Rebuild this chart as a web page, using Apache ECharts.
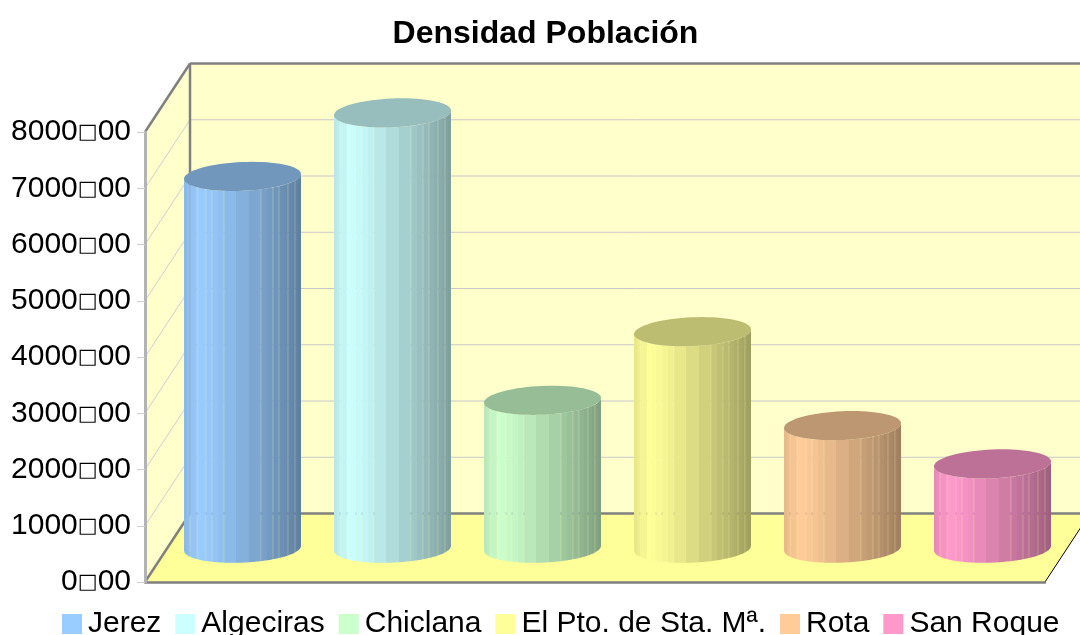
<!DOCTYPE html>
<html><head><meta charset="utf-8">
<style>html,body{margin:0;padding:0;background:#fff}#c{width:1080px;height:635px}</style>
<script src="https://cdn.jsdelivr.net/npm/echarts@6/dist/echarts.min.js"></script>
</head><body><div id="c"></div>
<script>
const titleText = 'Densidad Población';
const categories = ['Jerez','Algeciras','Chiclana','El Pto. de Sta. Mª.','Rota','San Roque'];
const values = [6610,7740,2630,3850,2180,1500];
const colors = ['#99ccff','#ccffff','#ccffcc','#ffff99','#ffcc99','#ff99cc'];
const yTicks = [0,1000,2000,3000,4000,5000,6000,7000,8000];
const depth = {dx:45, dy:-68.5};
const stripEdges = [0,3,6,13,17,22,28,34,40,52,65,77,83,89,95,100,104,108,111,114,117];
const seamEdges = [6,13,22,28,40,77,89,95,104,111];
const FONT = '"Liberation Sans", Arial, sans-serif';

function shade(hex, f){
  const n = parseInt(hex.slice(1),16);
  const c = [n>>16&255, n>>8&255, n&255].map(v=>Math.round(v*f));
  return 'rgb('+c.join(',')+')';
}
function light(u){
  if(u<0.13) return 0.90+0.10*u/0.13;
  return 1-0.38*Math.pow((u-0.13)/0.87,1.2);
}

const chart = echarts.init(document.getElementById('c'),null,{renderer:'canvas'});

function renderFrame(params, api){
  const cs = params.coordSys;
  const L=cs.x,R=cs.x+cs.width,T=cs.y,B=cs.y+cs.height,dx=depth.dx,dy=depth.dy;
  const grey='#808080';
  if(params.dataIndex===0){
    return {type:'group',silent:true,children:[
      {type:'polygon',shape:{points:[[L,T],[L+dx,T+dy],[L+dx,B+dy],[L,B]]},style:{fill:'#ffffcc'}},
      {type:'rect',shape:{x:L+dx,y:T+dy,width:cs.width,height:cs.height},style:{fill:'#ffffcc'}},
      {type:'polygon',shape:{points:[[L,B],[L+dx,B+dy],[R+dx,B+dy],[R,B]]},style:{fill:'#ffff99'}}
    ]};
  }
  if(params.dataIndex===yTicks.length-1){
    return {type:'group',silent:true,children:[
      {type:'line',shape:{x1:L,y1:T,x2:L+dx,y2:T+dy},style:{stroke:grey,lineWidth:2.5}},
      {type:'line',shape:{x1:L+dx,y1:T+dy,x2:R+dx,y2:T+dy},style:{stroke:grey,lineWidth:2.5}},
      {type:'line',shape:{x1:L+dx,y1:T+dy,x2:L+dx,y2:B+dy},style:{stroke:grey,lineWidth:2.5}},
      {type:'line',shape:{x1:L,y1:B,x2:L+dx,y2:B+dy},style:{stroke:grey,lineWidth:2.5}},
      {type:'line',shape:{x1:L+dx,y1:B+dy,x2:R+dx,y2:B+dy},style:{stroke:grey,lineWidth:2.5}},
      {type:'line',shape:{x1:R,y1:B,x2:R+dx,y2:B+dy},style:{stroke:'#000',lineWidth:1}}
    ]};
  }
  const y = api.coord([0,api.value(1)])[1];
  return {type:'group',silent:true,children:[
    {type:'line',shape:{x1:L,y1:y,x2:L+dx,y2:y+dy},style:{stroke:'#cfcfcf',lineWidth:1}},
    {type:'line',shape:{x1:L+dx,y1:y+dy,x2:R+dx,y2:y+dy},style:{stroke:'#c8c8c8',lineWidth:1}}
  ]};
}

function renderCylinder(color){
  return function(params, api){
    const i = api.value(0), v = api.value(1);
    const base = api.coord([i,0]), top = api.coord([i,v]);
    const band = api.size([1,0])[0];
    const cx = base[0]+depth.dx/2, by = base[1]+depth.dy/2+0.5, ty = top[1]+depth.dy/2+0.5;
    const ratio = 0.426;
    const ky = ratio*depth.dy/2, kx = ratio*depth.dx/2;
    const half = band*0.39;
    const a = Math.sqrt(half*half-kx*kx);
    const pt = (t,y)=>[cx+a*Math.cos(t)+kx*Math.sin(t), y+ky*Math.sin(t)];
    const t0 = Math.atan2(kx,a);
    const toT = w=>t0-Math.acos(Math.max(-1,Math.min(1,2*w/117-1)));
    const kids=[];
    const el=(y)=>{const p=[];for(let k=0;k<72;k++)p.push(pt(k/72*Math.PI*2,y));return p;};
    const gap=0.14;
    for(let k=0;k<stripEdges.length-1;k++){
      const e0=stripEdges[k], e1=stripEdges[k+1];
      const s0=toT(seamEdges.includes(e0)?e0+gap:e0);
      const s1=toT(seamEdges.includes(e1)?e1-gap:(k<stripEdges.length-2?e1+0.6:e1));
      const steps=3, top1=[], bot1=[];
      for(let j=0;j<=steps;j++){
        const s=s0+(s1-s0)*j/steps;
        top1.push(pt(s,ty)); bot1.unshift(pt(s,by));
      }
      const um=(e0+e1)/2/117;
      kids.push({type:'polygon',shape:{points:top1.concat(bot1)},style:{fill:shade(color,light(um))}});
    }
    kids.push({type:'polygon',shape:{points:el(ty)},style:{fill:shade(color,0.74)}});
    return {type:'group',children:kids};
  };
}

const series = [{
  type:'custom',name:'frame',silent:true,z:1,
  data:yTicks.map(v=>[0,v]),encode:{x:0,y:1},clip:false,
  renderItem:renderFrame
}];
categories.forEach((c,i)=>{
  series.push({type:'custom',name:c,z:3,clip:false,
    itemStyle:{color:colors[i]},
    data:[[i,values[i]]],encode:{x:0,y:1},
    renderItem:renderCylinder(colors[i])});
});

chart.setOption({
  animation:false,
  backgroundColor:'#fff',
  title:{text:titleText,left:540.5,top:13,textAlign:'center',
    textStyle:{fontFamily:FONT,fontSize:32,fontWeight:'bold',color:'#000'}},
  legend:{data:categories,left:62,top:609,itemWidth:20,itemHeight:20,itemGap:14,padding:0,
    icon:'rect',selectedMode:false,
    textStyle:{fontFamily:FONT,fontSize:30,color:'#000',padding:[0,0,0,1]}},
  grid:{left:145,right:35,top:132,bottom:53,containLabel:false},
  xAxis:{type:'category',data:categories,axisLabel:{show:false},axisTick:{show:false},
    axisLine:{lineStyle:{color:'#808080',width:2.5}},z:5},
  yAxis:{type:'value',min:0,max:8000,interval:1000,z:6,
    axisLine:{show:true,lineStyle:{color:'#b3b3b3',width:3}},
    axisTick:{show:true,length:8,lineStyle:{color:'#cfcfcf',width:1}},
    splitLine:{show:false},
    axisLabel:{margin:14,formatter:v=>'{d|'+v+'}{b|\u25A1}{d|00}',
      rich:{d:{fontFamily:FONT,fontSize:30,color:'#000'},
            b:{fontFamily:'"DejaVu Sans"',fontSize:21,color:'#000',padding:[2,0,0,0]}}}},
  series
});
</script></body></html>
